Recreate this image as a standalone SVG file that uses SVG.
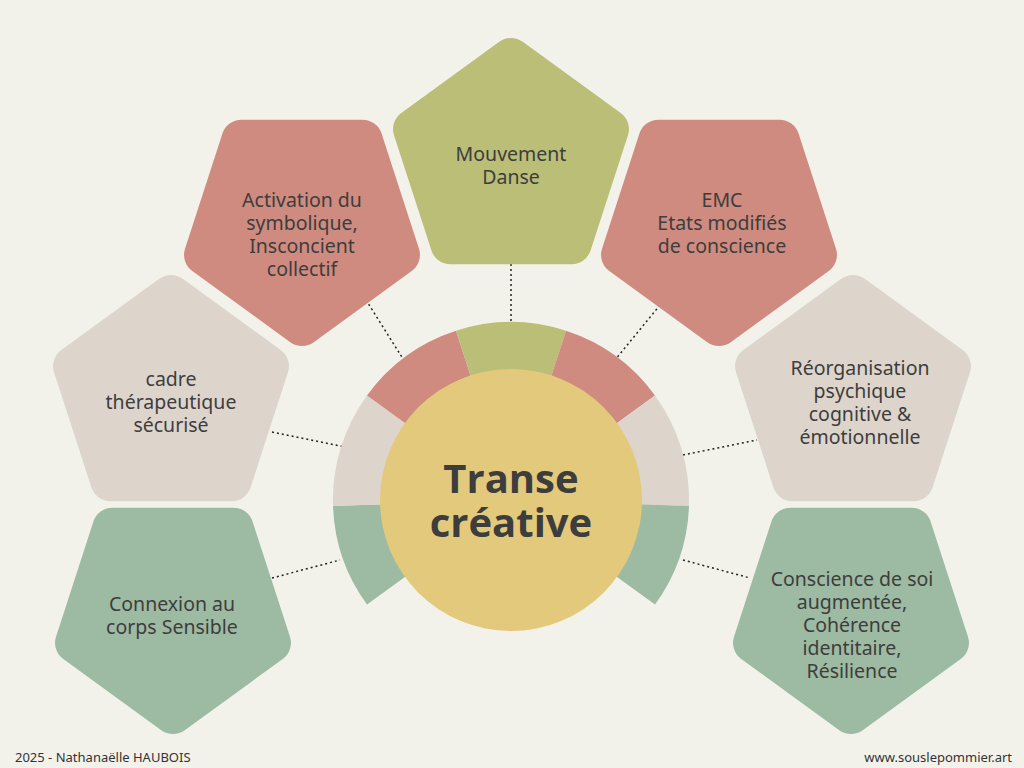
<svg xmlns="http://www.w3.org/2000/svg" width="1024" height="768" viewBox="0 0 1024 768">
<defs>
<style>
.t{font-family:"Noto Sans","Open Sans",sans-serif;font-size:19.5px;fill:#3d3d3d;text-anchor:middle}
.p{stroke-width:40;stroke-linejoin:round}
.r{fill:#CF8B7F;stroke:#CF8B7F}.o{fill:#BABE77;stroke:#BABE77}.b{fill:#DDD5CC;stroke:#DDD5CC}.g{fill:#9DBAA2;stroke:#9DBAA2}
.c{stroke:#222;stroke-width:1.5;stroke-dasharray:2 3;fill:none}
.f{font-family:"Noto Sans","Open Sans",sans-serif;font-size:13px;fill:#333}
.m{font-family:"Open Sans","Noto Sans",sans-serif;font-size:40px;font-weight:bold;fill:#3d3d3d;text-anchor:middle}
</style>
<polygon id="up" points="0,-103 97.96,-31.83 60.54,83.33 -60.54,83.33 -97.96,-31.83"/>
<polygon id="dn" points="0,103 97.96,31.83 60.54,-83.33 -60.54,-83.33 -97.96,31.83"/>
</defs>
<rect width="1024" height="768" fill="#F2F2EB"/>
<g id="connectors">
<line class="c" x1="511" y1="264" x2="511" y2="328"/>
<line class="c" x1="366" y1="300" x2="405" y2="362"/>
<line class="c" x1="660" y1="305" x2="615" y2="360"/>
<line class="c" x1="272" y1="432" x2="345" y2="447"/>
<line class="c" x1="683" y1="455" x2="757" y2="440"/>
<line class="c" x1="272" y1="578" x2="340" y2="560"/>
<line class="c" x1="683" y1="560" x2="750" y2="578"/>
</g>
<g id="ring">
<path fill="#9DBAA2" d="M511 500L367 604.6A178 178 0 0 1 333 506Z"/>
<path fill="#DDD5CC" d="M511 500L333 506A178 178 0 0 1 367 395.4Z"/>
<path fill="#CF8B7F" d="M511 500L367 395.4A178 178 0 0 1 456 330.7Z"/>
<path fill="#BABE77" d="M511 500L456 330.7A178 178 0 0 1 566 330.7Z"/>
<path fill="#CF8B7F" d="M511 500L566 330.7A178 178 0 0 1 655 395.4Z"/>
<path fill="#DDD5CC" d="M511 500L655 395.4A178 178 0 0 1 689 506Z"/>
<path fill="#9DBAA2" d="M511 500L689 506A178 178 0 0 1 655 604.6Z"/>
</g>
<g id="center">
<circle cx="511" cy="500" r="131" fill="#E3C97B"/>
<text class="m" x="511" y="493">Transe</text>
<text class="m" x="511" y="537">créative</text>
</g>
<g id="mouvement"><use href="#up" class="p o" x="511" y="161"/>
<text class="t" x="511" y="161">Mouvement</text><text class="t" x="511" y="184">Danse</text></g>
<g id="activation"><use href="#dn" class="p r" x="302" y="223"/>
<text class="t" x="302" y="207">Activation du</text><text class="t" x="302" y="230">symbolique,</text><text class="t" x="302" y="253">Insconcient</text><text class="t" x="302" y="276">collectif</text></g>
<g id="emc"><use href="#dn" class="p r" x="719" y="223"/>
<text class="t" x="722" y="207">EMC</text><text class="t" x="722" y="230">Etats modifiés</text><text class="t" x="722" y="253">de conscience</text></g>
<g id="cadre"><use href="#up" class="p b" x="171" y="398"/>
<text class="t" x="171" y="386">cadre</text><text class="t" x="171" y="409">thérapeutique</text><text class="t" x="171" y="432">sécurisé</text></g>
<g id="reorg"><use href="#up" class="p b" x="853" y="398"/>
<text class="t" x="860" y="375">Réorganisation</text><text class="t" x="860" y="398">psychique</text><text class="t" x="860" y="421">cognitive &amp;</text><text class="t" x="860" y="444">émotionnelle</text></g>
<g id="connexion"><use href="#dn" class="p g" x="173" y="611"/>
<text class="t" x="172" y="611">Connexion au</text><text class="t" x="172" y="634">corps Sensible</text></g>
<g id="conscience"><use href="#dn" class="p g" x="851" y="611"/>
<text class="t" x="852" y="586">Conscience de soi</text><text class="t" x="852" y="609">augmentée,</text><text class="t" x="852" y="632">Cohérence</text><text class="t" x="852" y="655">identitaire,</text><text class="t" x="852" y="678">Résilience</text></g>
<text class="f" x="15" y="762">2025 - Nathanaëlle HAUBOIS</text>
<text class="f" x="1012" y="762" text-anchor="end">www.souslepommier.art</text>
</svg>
